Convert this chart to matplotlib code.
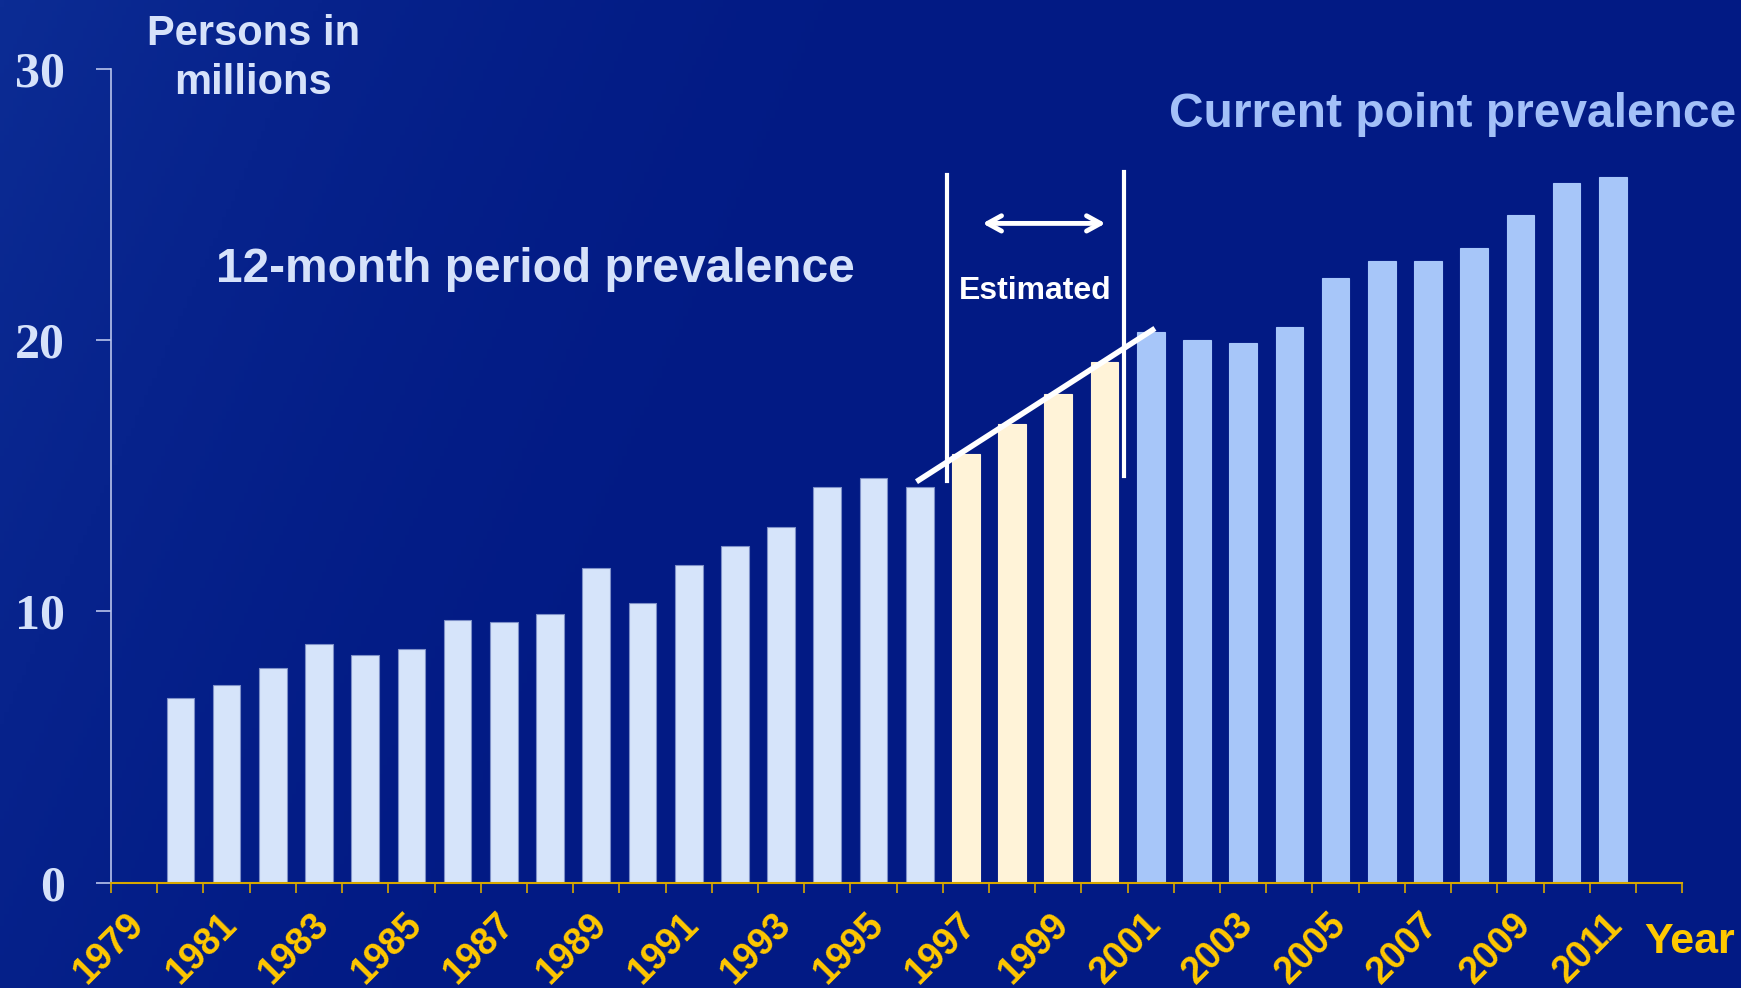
"""
Persons in millions by year: 12-month period prevalence vs current point prevalence.
"""

import numpy as np
import matplotlib
matplotlib.use("Agg")
import matplotlib.pyplot as plt
from matplotlib.colors import LinearSegmentedColormap
from matplotlib.transforms import ScaledTranslation


years = list(range(1980, 2012))
persons_millions = [
    6.8, 7.3, 7.9, 8.8, 8.4, 8.6, 9.7, 9.6, 9.9, 11.6,
    10.3, 11.7, 12.4, 13.1, 14.6, 14.9, 14.6, 15.8, 16.9, 18.0,
    19.2, 20.3, 20.0, 19.9, 20.5, 22.3, 22.9, 22.9, 23.4, 24.6,
    25.8, 26.0,
]
period_years = list(range(1980, 1997))
estimated_years = [1997, 1998, 1999, 2000]
point_years = list(range(2001, 2012))
label_years = list(range(1979, 2012, 2))
y_ticks = [0, 10, 20, 30]

PERIOD_COLOR = "#D6E4FA"
ESTIMATED_COLOR = "#FFF3D8"
POINT_COLOR = "#A7C6F9"
YELLOW = "#FFC800"
BG_DARK = "#021A84"

plt.rcParams["font.family"] = ["Liberation Sans", "DejaVu Sans"]

fig = plt.figure(figsize=(17.41, 9.88), dpi=100)

# background gradient, lighter towards the left
bg = fig.add_axes([0, 0, 1, 1], zorder=-10)
gx, gy = np.meshgrid(np.linspace(0, 1, 400), np.linspace(0, 1, 240))
shade = np.clip(1.0 - (gx * 1.6 + gy * 0.4), 0, 1) ** 2
bg_cmap = LinearSegmentedColormap.from_list("bg", [BG_DARK, "#0C2C94"])
bg.imshow(shade, cmap=bg_cmap, aspect="auto", extent=[0, 1, 0, 1], origin="upper")
bg.set_axis_off()

ax = fig.add_axes([0.0638, 0.1066, 0.9024, 0.8238])
ax.set_facecolor("none")

values = dict(zip(years, persons_millions))
for group, color in [(period_years, PERIOD_COLOR), (estimated_years, ESTIMATED_COLOR), (point_years, POINT_COLOR)]:
    ax.bar(group, [values[y] for y in group], width=0.6, color=color,
           edgecolor="#7E90C8" if color == PERIOD_COLOR else color, linewidth=0.8, zorder=2)

ax.set_xlim(1978.5, 2012.5)
ax.set_ylim(0, 30)

for side in ["top", "right"]:
    ax.spines[side].set_visible(False)
ax.spines["left"].set_color("#B8C4EC")
ax.spines["left"].set_linewidth(1.2)
ax.spines["bottom"].set_color("#D8A800")
ax.spines["bottom"].set_linewidth(1.5)

ax.set_yticks(y_ticks)
ax.set_yticklabels([str(v) for v in y_ticks], family="Liberation Serif", fontweight="bold",
                   fontsize=36, color="#D6E2FA")
ax.tick_params(axis="y", direction="out", length=11, width=1.2, color="#B8C4EC", pad=22)

ax.set_xticks(label_years)
ax.set_xticklabels([str(y) for y in label_years], rotation=45, ha="right", va="top",
                   rotation_mode="anchor", fontsize=27, fontweight="bold", color=YELLOW)
ax.tick_params(axis="x", which="major", length=0, pad=17)
ax.set_xticks([y - 0.5 for y in range(1979, 2014)], minor=True)
ax.tick_params(axis="x", which="minor", direction="out", length=7.5, width=1.2, color="#D8A800")
shift = ScaledTranslation(-8 / 100, 0, fig.dpi_scale_trans)
for lbl in ax.get_xticklabels():
    lbl.set_transform(lbl.get_transform() + shift)

# estimated block markers
ax.plot([1996.6, 1996.6], [14.8, 26.1], color="white", lw=3, zorder=3)
ax.plot([2000.42, 2000.42], [15.0, 26.2], color="white", lw=3, zorder=3)
ax.plot([1995.93, 2001.09], [14.78, 20.43], color="white", lw=4, zorder=3, solid_capstyle="butt")
ax.annotate("", xy=(1997.3, 24.3), xytext=(2000.08, 24.3),
            arrowprops=dict(arrowstyle="<->,head_length=1.0,head_width=0.55", color="white", lw=3.5))
ax.text(1998.5, 21.8, "Estimated", color="white", fontsize=23, fontweight="bold",
        ha="center", va="center")

ax.text(1987.68, 22.6, "12-month period prevalence", color="#D6E2FA", fontsize=34.5,
        fontweight="bold", ha="center", va="center")
ax.text(2007.54, 28.3, "Current point prevalence", color="#A3C0F8", fontsize=34.5,
        fontweight="bold", ha="center", va="center", clip_on=False)

fig.text(0.1455, 0.941, "Persons in\nmillions", color="#D6E2FA", fontsize=30,
         fontweight="bold", ha="center", va="center", linespacing=1.3)
fig.text(0.9707, 0.047, "Year", color=YELLOW, fontsize=31, fontweight="bold",
         ha="center", va="center")

fig.savefig("out.png", dpi=100, facecolor=BG_DARK)
